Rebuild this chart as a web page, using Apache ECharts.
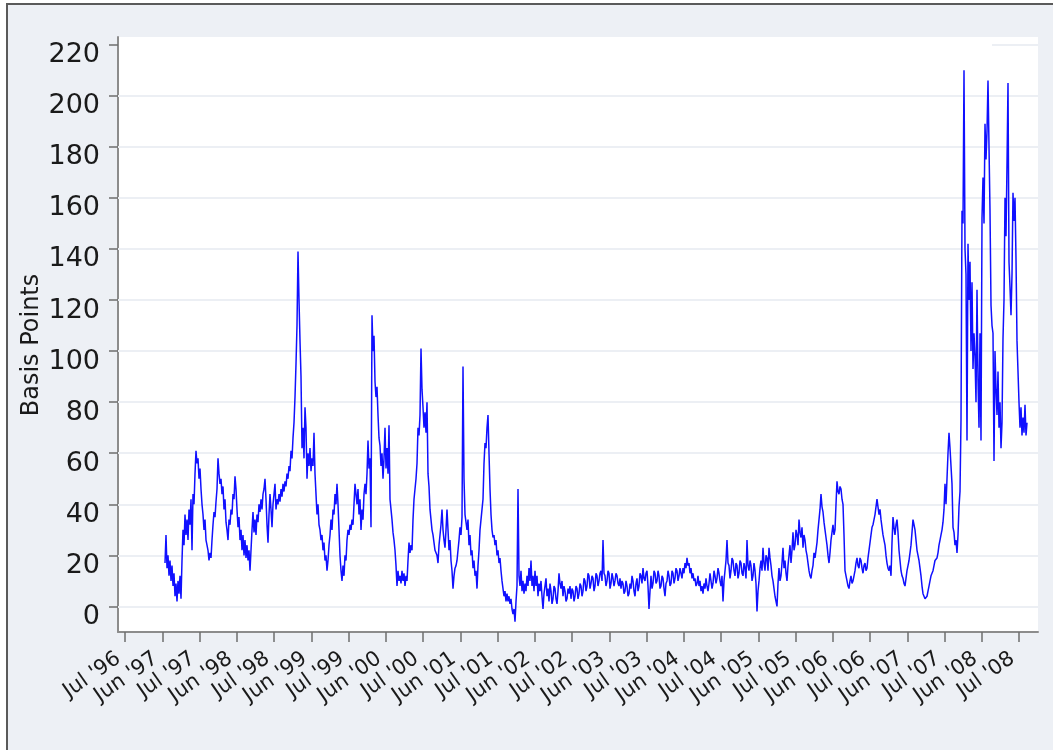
<!DOCTYPE html>
<html>
<head>
<meta charset="utf-8">
<script src="https://cdn.jsdelivr.net/npm/echarts@6/dist/echarts.min.js"></script>
<style>
html,body{margin:0;padding:0;background:#fff;}
#frame{position:absolute;left:6px;top:3px;width:1047px;height:747px;border-left:2px solid #5a5a5a;border-top:2px solid #5a5a5a;background:#edf0f5;box-sizing:border-box;}
#chart{position:absolute;left:0;top:0;width:1053px;height:750px;}
</style>
</head>
<body>
<div id="frame"></div>
<div id="chart"></div>
<script>
// Tick labels of the date axis (equally spaced, half a year apart)
const tickLabels = ["Jul '96","Jun '97","Jul '97","Jun '98","Jul '98","Jun '99","Jul '99","Jun '00","Jul '00","Jun '01","Jul '01","Jun '02","Jul '02","Jun '03","Jul '03","Jun '04","Jul '04","Jun '05","Jul '05","Jun '06","Jul '06","Jun '07","Jul '07","Jun '08","Jul '08"];
const tickStartYear = 1996.5;
const tickStepYears = 0.5;
const yTickValues = [0,20,40,60,80,100,120,140,160,180,200,220];

// Spread series (basis points); regular sampling
const seriesStartYear = 1997.0369;  // decimal year of first observation
const seriesStepYears = 0.0134228;  // years between observations
const values1997to2001 = [
17,28,15,20,12,18,10,16,8,13,4,9,2,10,5,12,3,18,30,24,36,28,34,26,38,32,42,22,44,40,52,61,56,58,50,54,
46,40,36,30,34,26,24,22,18,21,19,26,32,37,35,41,46,58,52,48,50,44,47,38,42,33,30,26,34,32,38,36,44,42,51,46,38,31,35,26,30,22,28,20,26,19,24,18,22,14,
22,30,37,29,34,28,36,33,40,37,42,38,44,46,50,42,32,25,36,44,38,31,40,44,48,38,42,40,44,41,46,43,48,45,49,47,52,50,55,53,61,58,66,72,82,95,110,139,120,104,
90,62,70,58,78,70,50,60,55,62,53,58,55,68,52,44,36,40,32,30,26,28,22,25,18,20,14,18,24,28,34,30,38,36,44,40,48,40,30,20,14,10,16,12,20,18,26,30,28,32,
30,34,32,40,48,44,40,46,36,42,30,38,34,44,48,44,52,65,54,58,31,114,100,106,88,82,86,75,66,63,55,60,50,58,70,54,62,52,71,42,38,34,29,26,22,16,8,14,10,12,
9,14,10,13,8,12,10,18,25,21,24,22,34,42,46,50,56,70,67,75,101,85,78,70,76,68,80,52,47,38,34,30,28,25,22,21,20,17,24,28,32,38,30,26,23,30,38,30,22,26,
18,14,7,12,15,16,18,22,26,31,28,35,94,50,36,33,30,34,24,28,20,22,15,18,12,14,7,16,22,30,34,38,42,56,64,62,70,75,60,46,36,30,27,28,24,26,20,22,17,19,
14,10,7,4,6,2,5,2,4,1,3,-1,-3,-1,-6,2,8,46,12,8,14,6,10,5,9,6,12,8,15,10,18,8,12,6,14,8,12,4,9,6
];
const values2002to2007 = [
10,4,-1,5,8,11,4,7,2,9,6,1,3,8,7,3,1,6,13,9,
7,10,4,8,6,2,3,7,5,8,3,7,6,2,4,8,7,3,5,9,
8,4,6,11,10,6,8,13,12,7,9,12,11,6,8,13,12,8,10,13,
14,10,26,13,12,8,10,14,13,7,9,13,11,8,10,13,12,9,8,11,
7,10,9,5,6,10,8,4,5,9,7,12,10,6,4,9,11,6,8,13,
12,9,15,11,10,13,14,8,-1,6,12,7,9,14,13,9,10,14,12,7,
8,12,11,7,4,9,10,14,12,8,9,14,13,9,11,15,14,10,12,15,
13,11,15,13,17,15,19,16,17,13,15,11,13,10,11,8,9,12,8,10,
6,8,5,9,7,11,8,6,9,13,10,7,9,14,12,9,11,15,13,10,
8,12,2,10,14,18,26,17,16,11,14,19,18,14,12,17,16,11,13,18,
17,13,12,17,15,11,26,16,14,18,16,10,12,17,14,9,-2,6,10,15,
18,14,23,17,14,20,19,14,23,19,16,12,10,7,4,2,0,9,15,10,
12,17,23,15,18,13,10,16,20,24,17,22,29,22,24,30,28,24,34,29,
27,31,23,28,26,22,20,17,14,12,11,14,16,21,19,22,25,30,34,38,
44,39,37,33,30,27,24,20,17,21,26,29,32,28,30,40,49,45,44,47,
46,42,40,28,14,12,10,8,7,10,12,9,10,12,14,17,19,16,15,19,
18,15,13,16,17,14,15,19,22,25,28,31,32,34,36,39,42,39,36,38,
34,31,28,26,24,20,17,15,14,16,12,25,35,31,28,32,34,29,22,18,
14,12,11,9,8,11,14,16,18,21,24,29,34,32,30,26,22,20,18,15,
12,8,5,4,3,3,4,6,8,10,12,13,14,16,18,18,19,21,24
];
const values2007to2008 = [
26,28,30,33,38,48,40,50,60,68,62,55,48,31,29,24,26,21,28,39,
45,73,155,150,210,140,130,65,142,120,135,100,127,93,107,98,80,124,89,70,
107,65,152,168,150,189,175,186,206,180,155,118,110,107,57,100,85,75,92,70,
80,62,72,105,120,160,145,173,205,135,125,114,130,162,151,160,136,104,92,80,
70,78,67,74,68,79,67,72
];

const allValues = values1997to2001.concat(values2002to2007, values2007to2008);
const seriesData = allValues.map((v, i) => [seriesStartYear + i * seriesStepYears, v]);

const tickYears = tickLabels.map((_, i) => tickStartYear + i * tickStepYears);
const FONT = 'DejaVu Sans';

const chart = echarts.init(document.getElementById('chart'), null, {renderer: 'canvas'});
chart.setOption({
  backgroundColor: 'transparent',
  animation: false,
  grid: {left: 118, top: 37, width: 920, height: 595, show: true, backgroundColor: '#ffffff', borderWidth: 0, containLabel: false},
  xAxis: {
    type: 'value', min: 1996.406, max: 2008.755,
    axisLine: {show: true, onZero: false, lineStyle: {color: '#8c8c8c', width: 2}},
    axisTick: {show: true, customValues: tickYears, length: 10, lineStyle: {color: '#6e6e6e', width: 1.5}},
    axisLabel: {show: true, customValues: tickYears, rotate: 35, margin: 20, color: '#1a1a1a',
      formatter: function (v) { const i = Math.round((v - tickStartYear) / tickStepYears); return '{t|' + (tickLabels[i] || '') + '}'; },
      rich: {t: {fontFamily: FONT, fontSize: 21, color: '#1a1a1a', padding: [0, 8, 0, 0]}}},
    splitLine: {show: false}
  },
  yAxis: {
    type: 'value', min: -10, max: 223,
    axisLine: {show: true, onZero: false, lineStyle: {color: '#8c8c8c', width: 2}},
    axisTick: {show: true, customValues: yTickValues, length: 9, lineStyle: {color: '#6e6e6e', width: 1.5}},
    axisLabel: {show: true, customValues: yTickValues, margin: 18, fontFamily: FONT, fontSize: 27, color: '#1a1a1a', verticalAlign: 'top', lineHeight: 21},
    splitLine: {show: false}
  },
  graphic: [{
    type: 'text', x: 32, y: 345, rotation: Math.PI / 2,
    style: {text: 'Basis Points', font: '24px "DejaVu Sans"', fill: '#1a1a1a', textAlign: 'center', textVerticalAlign: 'middle'}
  }],
  series: [
    {
      type: 'line', data: [], z: 1, silent: true,
      markLine: {
        silent: true, z: 1, symbol: ['none', 'none'], label: {show: false}, animation: false,
        lineStyle: {color: '#eceff4', width: 2, type: 'solid'},
        data: yTickValues.filter(v => v <= 200).map(v => ({yAxis: v})).concat([[{coord: [2008.138, 220]}, {coord: [2008.755, 220]}]])
      }
    },
    {
      type: 'line', data: seriesData, z: 3, showSymbol: false, symbol: 'none', sampling: false,
      lineStyle: {color: '#1010ff', width: 1.5}
    }
  ]
});
</script>
</body>
</html>
